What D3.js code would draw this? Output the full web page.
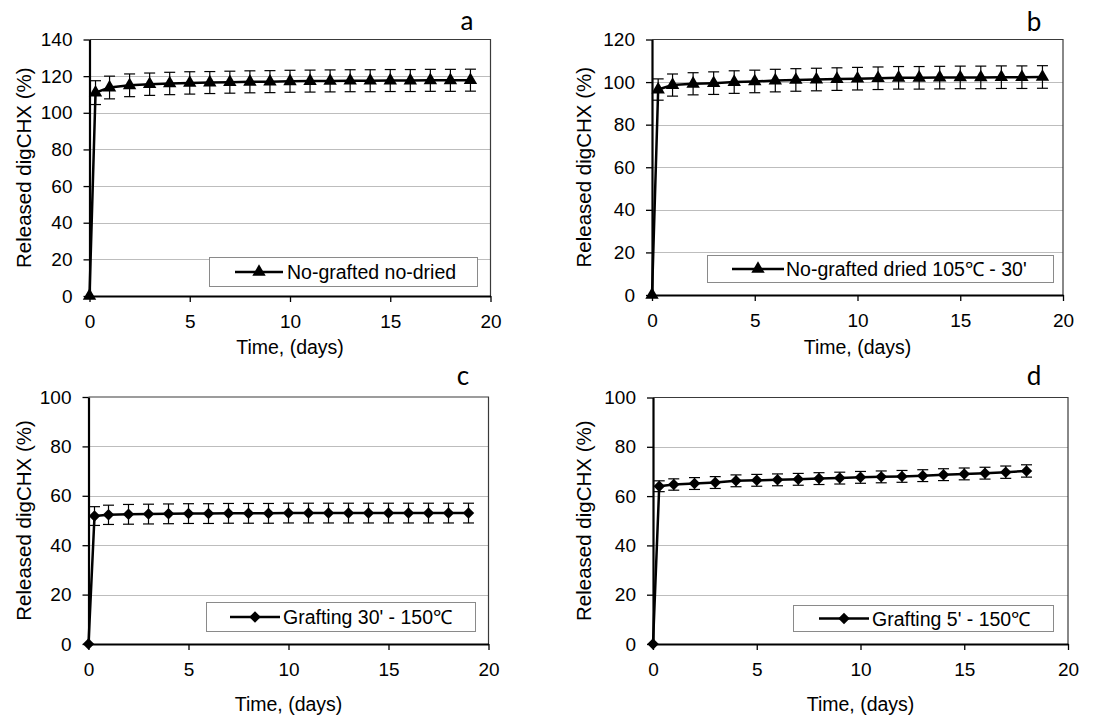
<!DOCTYPE html>
<html>
<head>
<meta charset="utf-8">
<script src="https://cdn.jsdelivr.net/npm/d3@7"></script>
<style>
  body { margin: 0; background: #fff; }
  svg { display: block; }
  text { font-family: "Liberation Sans", Arial, sans-serif; fill: #000; }
</style>
</head>
<body>
<svg id="chart" width="1117" height="718"></svg>
<script>
// Sampling times (days): first reading after ~8 h, then daily
const daysFull  = [0, 0.3, 1, 2, 3, 4, 5, 6, 7, 8, 9, 10, 11, 12, 13, 14, 15, 16, 17, 18, 19];
const daysShort = [0, 0.3, 1, 2, 3, 4, 5, 6, 7, 8, 9, 10, 11, 12, 13, 14, 15, 16, 17, 18];

// (a) No-grafted no-dried
const releasedA = [0, 111, 113.8, 115, 115.6, 116, 116.3, 116.5, 116.7, 116.9, 117, 117.2, 117.3, 117.4, 117.5, 117.5, 117.6, 117.6, 117.7, 117.7, 117.8];
const errorA    = [0, 6.5, 6.2, 6.2, 6.1, 6.1, 6.1, 6, 6, 6, 6, 6, 6, 6, 6, 6, 6, 6, 6, 6, 6];

// (b) No-grafted dried 105 °C - 30'
const releasedB = [0, 96.5, 98.6, 99.2, 99.5, 100, 100.3, 100.7, 101, 101.2, 101.4, 101.6, 101.8, 102, 102, 102.1, 102.2, 102.2, 102.3, 102.3, 102.4];
const errorB    = [0, 5, 5.2, 5.2, 5.3, 5.3, 5.3, 5.3, 5.3, 5.3, 5.3, 5.3, 5.3, 5.3, 5.3, 5.3, 5.3, 5.3, 5.3, 5.3, 5.3];

// (c) Grafting 30' - 150 °C
const releasedC = [0, 51.8, 52.3, 52.5, 52.6, 52.7, 52.8, 52.8, 52.9, 52.9, 52.9, 53, 53, 53, 53, 53, 53, 53, 53, 53, 53];
const errorC    = [0, 3.8, 3.9, 4, 4, 4, 4, 4, 4, 4, 4, 4, 4, 4, 4, 4, 4, 4, 4, 4, 4];

// (d) Grafting 5' - 150 °C
const releasedD = [0, 64, 64.7, 65.1, 65.5, 66.2, 66.4, 66.6, 66.8, 67.1, 67.3, 67.6, 67.8, 68, 68.3, 68.7, 69, 69.3, 69.7, 70.2];
const errorD    = [0, 2.2, 2.3, 2.4, 2.4, 2.4, 2.4, 2.4, 2.4, 2.4, 2.4, 2.4, 2.4, 2.4, 2.4, 2.4, 2.4, 2.4, 2.5, 2.5];

// Axis ticks
const xTicks   = [0, 5, 10, 15, 20];
const yTicks140 = [0, 20, 40, 60, 80, 100, 120, 140];
const yTicks120 = [0, 20, 40, 60, 80, 100, 120];
const yTicks100 = [0, 20, 40, 60, 80, 100];

const panelTags    = ["a", "b", "c", "d"];
const legendLabels = ["No-grafted no-dried", "No-grafted dried 105\u2103 - 30'", "Grafting 30' - 150\u2103", "Grafting 5' - 150\u2103"];
const xTitle = "Time, (days)";
const yTitle = "Released digCHX (%)";

// Panel geometry (pixels)
const layout = [
  { x0: 89.5, x1: 490.5, y0: 39.5, y1: 296, tagX: 467, tagY: 30, xTitleY: 354, yTitleX: 24,
    leg: { x: 209.5, y: 257.5, w: 268, h: 29, lx0: 235, lx1: 283, tx: 287 } },
  { x0: 652, x1: 1063, y0: 39.5, y1: 295, tagX: 1034, tagY: 31, xTitleY: 354, yTitleX: 584,
    leg: { x: 707.5, y: 255.5, w: 346, h: 27, lx0: 732, lx1: 784, tx: 786 } },
  { x0: 88.5, x1: 488.5, y0: 397, y1: 644, tagX: 463, tagY: 385, xTitleY: 711, yTitleX: 24,
    leg: { x: 206.5, y: 602.5, w: 269, h: 29, lx0: 230, lx1: 280, tx: 283 } },
  { x0: 653, x1: 1068, y0: 397.5, y1: 644, tagX: 1034, tagY: 385, xTitleY: 711, yTitleX: 584,
    leg: { x: 793.5, y: 605.5, w: 260, h: 26, lx0: 819, lx1: 869, tx: 872 } }
];

const series = [
  { days: daysFull,  values: releasedA, errors: errorA, yTicks: yTicks140, marker: "triangle" },
  { days: daysFull,  values: releasedB, errors: errorB, yTicks: yTicks120, marker: "triangle" },
  { days: daysFull,  values: releasedC, errors: errorC, yTicks: yTicks100, marker: "diamond" },
  { days: daysShort, values: releasedD, errors: errorD, yTicks: yTicks100, marker: "diamond" }
];

const svg = d3.select("#chart");

function markerPath(kind) {
  if (kind === "triangle") return d3.symbol(d3.symbolTriangle, 78)();
  return d3.symbol(d3.symbolSquare, 66)();
}
function markerRotate(kind) { return kind === "diamond" ? " rotate(45)" : ""; }

series.forEach((s, i) => {
  const L = layout[i];
  const g = svg.append("g");
  const x = d3.scaleLinear().domain([0, 20]).range([L.x0, L.x1]);
  const yMax = d3.max(s.yTicks);
  const y = d3.scaleLinear().domain([0, yMax]).range([L.y1, L.y0]);

  // gridlines
  g.append("g").selectAll("line")
    .data(s.yTicks.filter(t => t > 0 && t < yMax))
    .join("line")
    .attr("x1", L.x0).attr("x2", L.x1)
    .attr("y1", d => Math.round(y(d)) + 0.5).attr("y2", d => Math.round(y(d)) + 0.5)
    .attr("stroke", "#bdbdbd").attr("stroke-width", 1);

  // plot-area frame (top and right)
  g.append("path")
    .attr("d", `M${L.x0},${L.y0}H${L.x1}V${L.y1}`)
    .attr("fill", "none").attr("stroke", "#3a3a3a").attr("stroke-width", 1.2);

  // legend box
  const lg = g.append("g");
  lg.append("rect")
    .attr("x", L.leg.x).attr("y", L.leg.y).attr("width", L.leg.w).attr("height", L.leg.h)
    .attr("fill", "#fff").attr("stroke", "#8a8a8a").attr("stroke-width", 1);
  const lcy = L.leg.y + L.leg.h / 2;
  lg.append("line").attr("x1", L.leg.lx0).attr("x2", L.leg.lx1).attr("y1", lcy).attr("y2", lcy)
    .attr("stroke", "#000").attr("stroke-width", 2.5);
  lg.append("path").attr("d", markerPath(s.marker))
    .attr("transform", `translate(${(L.leg.lx0 + L.leg.lx1) / 2},${lcy})${markerRotate(s.marker)}`)
    .attr("fill", "#000");
  lg.append("text").attr("x", L.leg.tx).attr("y", lcy).attr("dy", "0.36em")
    .style("font-size", "19.5px").text(legendLabels[i]);

  // axes
  const yAxis = d3.axisLeft(y).tickValues(s.yTicks).tickSize(6).tickSizeOuter(0).tickPadding(11);
  const ya = g.append("g").attr("transform", `translate(${L.x0},0)`).call(yAxis);
  const xAxis = d3.axisBottom(x).tickValues(xTicks).tickSize(6).tickSizeOuter(0).tickPadding(13);
  const xa = g.append("g").attr("transform", `translate(0,${L.y1})`).call(xAxis);
  [ya, xa].forEach(a => {
    a.select(".domain").attr("stroke", "#000").attr("stroke-width", 2.2);
    a.selectAll(".tick line").attr("stroke", "#000").attr("stroke-width", 1.3);
    a.selectAll(".tick text").style("font-size", "19px").style("font-family", '"Liberation Sans", Arial, sans-serif').attr("fill", "#000");
  });

  // error bars
  const eb = g.append("g").attr("stroke", "#000").attr("stroke-width", 1.2);
  const pts = s.days.map((d, k) => ({ d, v: s.values[k], e: s.errors[k] })).filter(p => p.e > 0);
  eb.selectAll("line.v").data(pts).join("line").attr("class", "v")
    .attr("x1", p => x(p.d)).attr("x2", p => x(p.d))
    .attr("y1", p => y(p.v + p.e)).attr("y2", p => y(p.v - p.e));
  eb.selectAll("line.t").data(pts).join("line").attr("class", "t")
    .attr("x1", p => x(p.d) - 5.5).attr("x2", p => x(p.d) + 5.5)
    .attr("y1", p => y(p.v + p.e)).attr("y2", p => y(p.v + p.e));
  eb.selectAll("line.b").data(pts).join("line").attr("class", "b")
    .attr("x1", p => x(p.d) - 5.5).attr("x2", p => x(p.d) + 5.5)
    .attr("y1", p => y(p.v - p.e)).attr("y2", p => y(p.v - p.e));

  // series line
  const line = d3.line().x((d, k) => x(s.days[k])).y(d => y(d));
  g.append("path").datum(s.values).attr("d", line)
    .attr("fill", "none").attr("stroke", "#000").attr("stroke-width", 2.5).attr("stroke-linejoin", "round");

  // markers
  g.append("g").selectAll("path").data(s.values).join("path")
    .attr("d", markerPath(s.marker))
    .attr("transform", (d, k) => `translate(${x(s.days[k])},${y(d)})${markerRotate(s.marker)}`)
    .attr("fill", "#000");

  // titles
  g.append("text").attr("x", (L.x0 + L.x1) / 2).attr("y", L.xTitleY).attr("text-anchor", "middle")
    .style("font-size", "19.5px").text(xTitle);
  g.append("text").attr("transform", `translate(${L.yTitleX},${(L.y0 + L.y1) / 2}) rotate(-90)`)
    .attr("text-anchor", "middle").attr("dy", "0.36em")
    .style("font-size", "20.5px").text(yTitle);
  g.append("text").attr("x", L.tagX).attr("y", L.tagY).attr("text-anchor", "middle")
    .style("font-family", "Lato, 'Open Sans', sans-serif").style("font-size", "26px").text(panelTags[i]);
});
</script>
</body>
</html>
